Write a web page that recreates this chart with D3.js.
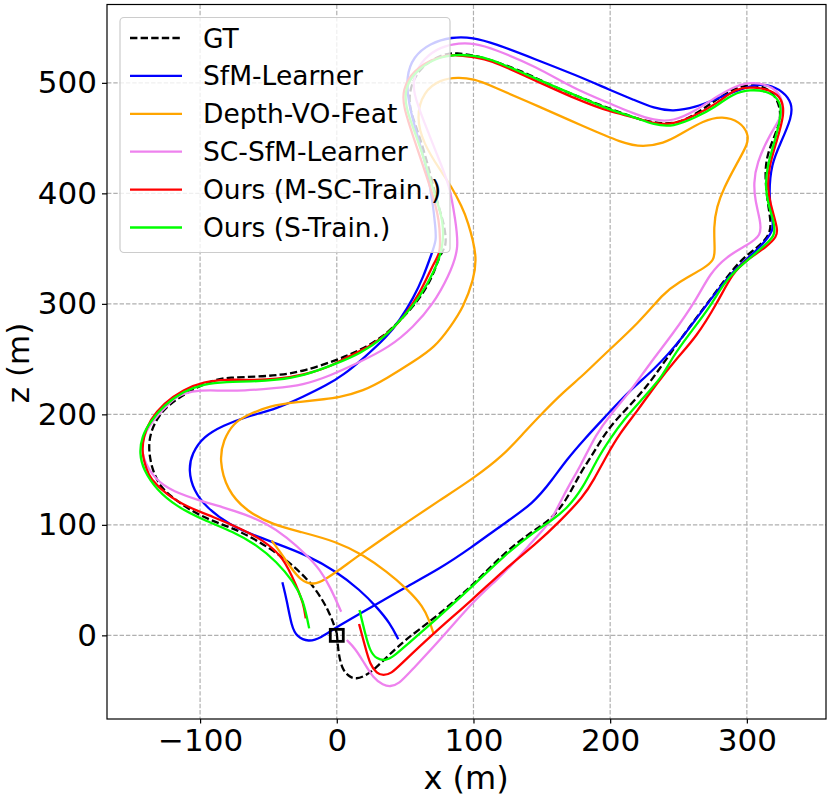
<!DOCTYPE html>
<html><head><meta charset="utf-8">
<script src="https://cdn.jsdelivr.net/npm/d3@7/dist/d3.min.js"></script>
<style>html,body{margin:0;padding:0;background:#fff}svg{display:block}text{font-family:"DejaVu Sans",sans-serif;fill:#000}</style>
</head><body><svg id="c" width="831" height="796"></svg>
<script>
const xTicks=[-100,0,100,200,300];
const zTicks=[0,100,200,300,400,500];
const gridX=[-100,0,100,200,300];
const gt=[[0,2],[1.2,-16],[3.7,-30],[8.5,-37],[14,-40],[22,-36],[29,-29],[38,-18],[51,-3],[68,12],[100,45.5],[122,74.5],[146,96.8],[156,104],[168,122],[178,147],[188,165],[197.6,186],[212,205],[227,225],[241,250],[258,279],[275.6,308],[295,340],[307,350],[319,364],[316,385],[313,415],[314.6,436],[323,459],[325.6,475],[319,493.5],[305,499.5],[290,495],[275.6,483],[256,466],[241.5,462],[222,466],[199.5,477],[173,489],[151,501],[136.6,510],[114.6,520],[100,525],[87.8,527],[78,526.7],[61,514.6],[53.6,496.5],[52.4,478],[61,451],[69,415],[74.4,388],[79,370],[80.5,352],[75.6,345.7],[70.7,326],[61,305],[48.8,288],[34,270],[17,258],[0,249],[-24.4,239],[-41.5,235.6],[-58.5,234],[-78,233.5],[-92.7,231],[-119.5,213],[-130.5,199],[-136.6,183],[-137.8,167.7],[-135,149.6],[-129,134],[-120.7,125.5],[-109.8,115],[-92.7,104],[-75.6,97],[-58.5,86],[-41.5,72.7],[-26.8,57.6],[-14.6,41],[-4.9,20],[0,2]];
const sfm=[[-39.8,48],[-36.6,32],[-33,7.8],[-29.3,-1.2],[-20.7,-6],[-12,-2.7],[0,7.8],[28,27.5],[50,43.4],[75.6,60.6],[97.6,78.7],[122,101],[144,119.5],[157.5,140.6],[168,158.7],[180.5,176.8],[197.6,199.4],[214.6,222],[231.7,240],[251,265.8],[278,312],[293,333.6],[308,349],[320.7,366.8],[318,379],[316,400],[318,427],[324.5,445],[333,469],[333,481.5],[327,492],[315,499],[302.5,498],[275.6,484.5],[263,478],[246,474],[232,477],[217.5,484.5],[200,493.5],[175,507],[146,521],[114.6,536],[100,541],[84,541.7],[68,535.7],[56,523.7],[50.7,505.6],[52.4,481.5],[58.5,454],[65.8,424],[70.7,388],[72,370],[73,357.8],[69.5,345.7],[63.4,324.6],[56,305],[46,285],[36.6,270],[19.5,250.7],[4.9,235.6],[-7.3,226.5],[-24.4,216],[-44,205],[-66,198],[-83,190],[-97.5,180],[-106,164.7],[-108.5,149.6],[-105,131.5],[-95,115],[-78,99.8],[-61,90.8],[-44,83],[-22,72.7],[0,57.6],[17,41],[29,26],[39,11],[45,-3.6]];
const depth=[[-47.6,85.7],[-41.5,75.7],[-34,62],[-26.8,50],[-17,45],[-7.3,51.6],[0,57.6],[18,74],[46,98],[75.6,122.5],[100,142],[122,163],[136.6,183],[151,202],[166,220.5],[180.5,235.6],[192.6,250.7],[222,284],[239,309.5],[248.7,318.6],[270.7,333.6],[275.6,339.7],[276.8,347],[275.6,370],[278,388],[283,404.5],[292.6,427],[301,445],[301,454],[295,465],[282,470],[268.5,466],[251,453],[239,445],[224,442],[209.7,445],[178,462],[148.8,478],[112,498],[100,503.5],[89,505],[75.6,503],[63.4,492],[58,469],[63.4,445],[75.6,421],[84,406],[91.5,388],[95.6,376],[103,342.7],[100,321.6],[92.7,297],[83,279],[72,261],[56,247.6],[36.6,232.6],[19.5,221],[0,215],[-7.3,214],[-29,211],[-49,208],[-66,199],[-75.6,192],[-83,176.8],[-86,158.7],[-80.5,131.5],[-66,112],[-46,99.8],[-26.8,93.8],[0,84.8],[19.5,72.7],[36.6,57.6],[51,42.5],[63.4,26],[68,12.4],[70.7,1.8]];
const scsfm=[[7.3,-4.2],[13.4,-11.8],[19.5,-23.8],[26.8,-39],[34,-45],[39,-46.5],[45.5,-44],[53.7,-33],[75.6,-4.2],[100,31],[117,50],[129,65],[146,89],[156.6,103],[163,119.5],[170.7,137.6],[178,152.6],[190,182.8],[200,199.4],[214.6,220.5],[229,246],[246,273],[263,303.5],[273,327.6],[285,342.7],[300,353],[311,362],[309.7,375.9],[306,394],[305,409],[307,427],[317,454],[325.6,469],[326.8,484.5],[319.6,496.5],[305,501],[292.6,498],[275.6,486],[263,475],[246,465],[232,466],[217.5,472],[199.5,481.5],[173,495],[146,514.6],[114.6,531],[100,535.7],[90,536],[75.6,532.7],[63.4,522],[56,505.6],[56,490.5],[63.4,466],[73,436],[83,406],[86.6,376],[89.8,350],[81.7,324.6],[70.7,300],[56,279],[39,261],[14.6,246],[-4.9,235],[-24.4,226.5],[-46,223.5],[-68,221.4],[-85,221.4],[-100,222],[-112,219],[-119.5,214.5],[-136.6,192],[-142.7,176.8],[-142.7,161.7],[-133,140.6],[-119.5,130],[-100,121.9],[-83,115.8],[-68,110],[-51,101],[-36.6,89],[-22,72.7],[-12,59],[-4.9,44],[3.2,21.4]];
const oursM=[[16.3,10.3],[20.7,-10],[24.4,-26.8],[29.3,-34.4],[34,-36.5],[40,-34.4],[46.3,-26.8],[70.7,1.8],[100,33],[122,59],[146,83],[163,103],[180.5,125.5],[188,140.6],[197.6,163],[207,182.8],[219.5,202.4],[234,228],[248.7,250.7],[263,270],[278,300],[290,329],[300,339.7],[314.6,351.7],[322,360.8],[322.5,368],[318.5,385],[315,403],[316,424],[322,448],[327.6,472],[325.6,486],[318,493.5],[305,496],[292.6,496],[278,481],[263,471],[246,462],[232,463],[217.5,469],[199.5,474],[178,483.6],[136.6,507],[112,521],[100,523],[88,525.8],[73,523.7],[56,511.6],[48,493.5],[48.8,478],[56,451],[63.4,424],[70.7,397],[75,375],[75.6,357.8],[75.6,345.7],[70.7,336.6],[61,309.5],[48.8,288],[40,276],[24.4,261],[7.3,252],[-4.9,243],[-24.4,235.6],[-44,231.7],[-63.4,231],[-80.5,231.7],[-97.5,229.6],[-112,222.6],[-126.8,210],[-136.6,195],[-141.5,179.8],[-142.7,164.7],[-139,149.6],[-136.6,142],[-124.4,127],[-109.8,116.4],[-90,107],[-70.7,96.8],[-53.7,86],[-39,71],[-29.3,44],[-24.4,29],[-22.7,15.4]];
const oursS=[[16.6,23],[20.7,1.8],[24.4,-14.8],[29.3,-21.4],[35.4,-23],[41.5,-19.3],[51,-8.7],[70.7,12.4],[100,45],[122,72],[146,95],[156,103],[168,114],[180.5,134],[190,158.7],[200,178],[209.7,195],[224,214.5],[239,235.6],[245,250.7],[258,273],[273,297],[283,318.6],[293,332],[302,341],[314.6,354.8],[321,362],[319.5,375.9],[316,388],[313.5,404.5],[314.6,424],[320.7,448],[326,475],[323,486],[314.6,492.6],[302.5,494],[290,490.5],[275.6,477],[263,469],[246,460],[232,462],[217.5,469],[199.5,475.7],[178,486.9],[136.6,508.6],[112,522],[100,524.6],[87.8,525.8],[73,523],[58.5,511.6],[50,496.5],[50,478],[58.5,451],[65.8,424],[72,397],[78,376],[78,351.7],[72,330.6],[61,306.5],[48.8,288],[34,268.8],[17,255],[0,246],[-24.4,234.7],[-44,231],[-63.4,229.6],[-80.5,229.6],[-97.5,227.5],[-112,221],[-126.8,208],[-136.6,193],[-142.7,179.8],[-144.4,164.7],[-141.5,149.6],[-131.7,131.5],[-117,116.4],[-97.6,104.4],[-75.6,93.8],[-58.5,81.7],[-44,66.7],[-31.7,48.6],[-24.4,32],[-20.2,6.3]];
const seriesNames=["GT","SfM-Learner","Depth-VO-Feat","SC-SfM-Learner","Ours (M-SC-Train.)","Ours (S-Train.)"];
const seriesColors=["#000000","#0000ff","#ffa500","#ee82ee","#ff0000","#00ff00"];
const seriesData=[gt,sfm,depth,scsfm,oursM,oursS];

const L=107,R=826,T=4.5,B=719;
const x=d3.scaleLinear().domain([-168.1,357.9]).range([L,R]);
const y=d3.scaleLinear().domain([-75.7,570.9]).range([B,T]);
const svg=d3.select("#c");
const clipId="plotclip";
svg.append("defs").append("clipPath").attr("id",clipId).append("rect").attr("x",L).attr("y",T).attr("width",R-L).attr("height",B-T);

const grid=svg.append("g");
grid.selectAll("line.gx").data(gridX).join("line").attr("x1",d=>x(d)).attr("x2",d=>x(d)).attr("y1",T).attr("y2",B);
grid.selectAll("line.gz").data(zTicks).join("line").attr("class","gz").attr("x1",L).attr("x2",R).attr("y1",d=>y(d)).attr("y2",d=>y(d));
grid.selectAll("line").attr("stroke","#b0b0b0").attr("stroke-width",1.2).attr("stroke-dasharray","4.4,1.9");

const line=d3.line().x(d=>x(d[0])).y(d=>y(d[1])).curve(d3.curveBasis);
const plot=svg.append("g").attr("clip-path",`url(#${clipId})`);
seriesData.forEach((s,i)=>{
  plot.append("path").attr("d",line(s)).attr("fill","none").attr("stroke",seriesColors[i]).attr("stroke-width",2.3)
   .attr("stroke-dasharray",i===0?"7.4,3.2":null);
});
plot.append("rect").attr("x",x(0)-6.5).attr("y",y(0)-6).attr("width",13).attr("height",12).attr("fill","none").attr("stroke","#000").attr("stroke-width",2.8);

const xa=svg.append("g").attr("transform",`translate(0,${B})`).call(d3.axisBottom(x).tickValues(xTicks).tickSize(4.5).tickPadding(5).tickFormat(d=>d<0?"\u2212"+(-d):d));
const ya=svg.append("g").attr("transform",`translate(${L},0)`).call(d3.axisLeft(y).tickValues(zTicks).tickSize(5).tickPadding(5));
[xa,ya].forEach(a=>{a.select(".domain").remove();a.selectAll("line").attr("stroke","#000").attr("stroke-width",1.2);a.selectAll("text").style("font-size","31px").style("font-family",'"DejaVu Sans"');});
svg.append("rect").attr("x",L).attr("y",T).attr("width",R-L).attr("height",B-T).attr("fill","none").attr("stroke","#000").attr("stroke-width",1.2);

svg.append("text").attr("x",466).attr("y",789).attr("text-anchor","middle").style("font-size","32px").text("x (m)");
svg.append("text").attr("transform","translate(29,363) rotate(-90)").attr("text-anchor","middle").style("font-size","31px").text("z (m)");

const lg=svg.append("g");
lg.append("rect").attr("x",120).attr("y",17.5).attr("width",330).attr("height",235).attr("rx",4).attr("fill","#fff").attr("fill-opacity",0.8).attr("stroke","#ccc").attr("stroke-width",1.2);
seriesNames.forEach((n,i)=>{
  const yy=38+i*37.9;
  lg.append("line").attr("x1",130).attr("x2",182).attr("y1",yy).attr("y2",yy).attr("stroke",seriesColors[i]).attr("stroke-width",2.3).attr("stroke-dasharray",i===0?"7.4,3.2":null);
  lg.append("text").attr("x",203).attr("y",yy+9.5).style("font-size","26.5px").text(n);
});
</script></body></html>
